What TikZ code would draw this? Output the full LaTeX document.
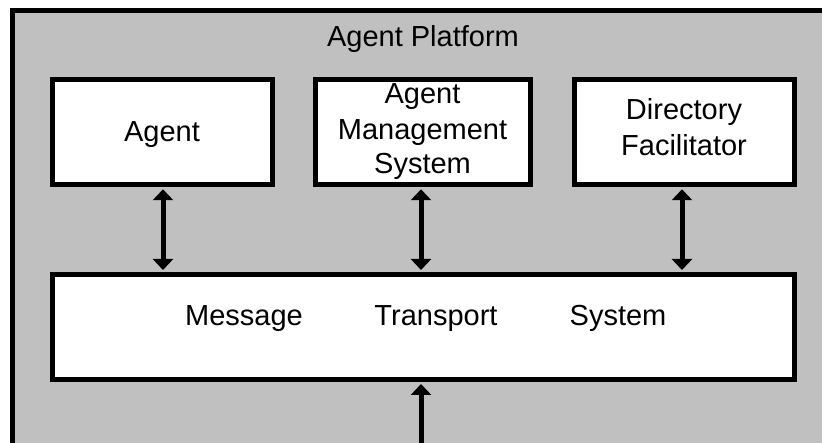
\documentclass[tikz,border=0pt]{standalone}
\usepackage{fontspec}
\setmainfont{Liberation Sans}
\usetikzlibrary{arrows.meta}

\definecolor{platgray}{HTML}{C0C0C0}
\tikzset{
  frame/.style={draw=black, fill=platgray, line width=5pt},
  compbox/.style={draw=black, fill=white, line width=5pt, rectangle,
    inner sep=0pt, minimum height=105pt},
  lbl/.style={anchor=base, inner sep=0pt, font=\fontsize{29}{35}\selectfont},
  link/.style={line width=5pt, {Triangle[length=11pt,width=20pt]}-{Triangle[length=11pt,width=20pt]},
    shorten <=2pt, shorten >=2pt},
  uplink/.style={line width=5pt, -{Triangle[length=11pt,width=20pt]}, shorten >=2pt}
}

\begin{document}
\begin{tikzpicture}[x=1pt,y=-1pt]
  \useasboundingbox (0,0) rectangle (822,443);
  \clip (0,0) rectangle (822,443);

  % platform frame, running past the right and bottom edges
  \draw[frame] (12,10.5) rectangle (860,480);
  \node[lbl] (title) at (423,47) {Agent Platform};

  % components
  \node[compbox, minimum width=220pt] (agent) at (162,132.25) {};
  \node[compbox, minimum width=215pt] (ams)   at (422.5,132.25) {};
  \node[compbox, minimum width=220pt] (df)    at (684,132.25) {};
  \node[compbox, minimum width=742pt] (mts)   at (423,327) {};

  % labels
  \node[lbl] (agenttxt) at (162,142) {Agent};
  \node[lbl] (amsa) at (422.5,104) {Agent};
  \node[lbl] (amsb) at (422.5,140) {Management};
  \node[lbl] (amsc) at (422.5,174) {System};
  \node[lbl] (dfa) at (684,120) {Directory};
  \node[lbl] (dfb) at (684,156) {Facilitator};
  \node[lbl] (mtsa) at (244,326) {Message};
  \node[lbl] (mtsb) at (436,326) {Transport};
  \node[lbl] (mtsc) at (618,326) {System};

  % links to the transport system
  \coordinate (agentx) at (163,0);
  \coordinate (amsx) at (421,0);
  \coordinate (dfx) at (682,0);
  \draw[link] (agent.south -| agentx) -- (mts.north -| agentx);
  \draw[link] (ams.south -| amsx) -- (mts.north -| amsx);
  \draw[link] (df.south -| dfx) -- (mts.north -| dfx);

  % external connection entering from below
  \coordinate (ext) at (421,460);
  \draw[uplink] (ext) -- (ext |- mts.south);
\end{tikzpicture}
\end{document}
